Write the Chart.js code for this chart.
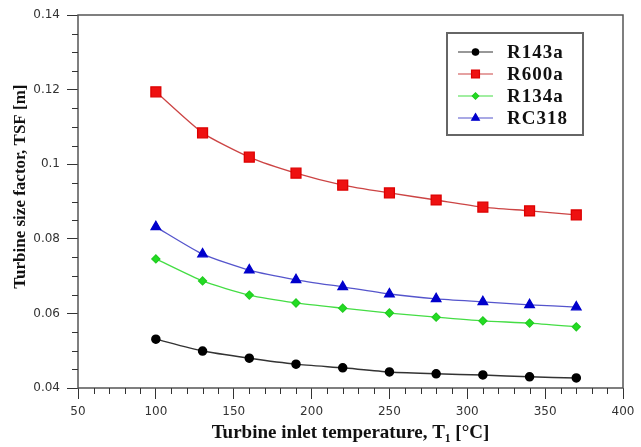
<!DOCTYPE html>
<html>
<head>
<meta charset="utf-8">
<script src="https://cdn.jsdelivr.net/npm/chart.js@4"></script>
<style>
  html, body { margin: 0; padding: 0; background: #fff; }
  #wrap { width: 641px; height: 447px; }
</style>
</head>
<body>
<div id="wrap"><canvas id="tsfChart" width="641" height="447"></canvas></div>
<script>
// turbine inlet temperature, degC
const temps = [100, 130, 160, 190, 220, 250, 280, 310, 340, 370];

// turbine size factor, m
const r143a = [0.0531, 0.0499, 0.0480, 0.0464, 0.0454, 0.0443, 0.0438, 0.0435, 0.0430, 0.0427];
const r600a = [0.1194, 0.1084, 0.1019, 0.0976, 0.0944, 0.0923, 0.0904, 0.0885, 0.0875, 0.0864];
const r134a = [0.0746, 0.0687, 0.0649, 0.0628, 0.0614, 0.0601, 0.0590, 0.0580, 0.0574, 0.0564];
const rc318 = [0.0832, 0.0759, 0.0716, 0.0690, 0.0671, 0.0652, 0.0639, 0.0631, 0.0623, 0.0617];

const xTicks = [50, 100, 150, 200, 250, 300, 350, 400];
const yTicks = [0.04, 0.06, 0.08, 0.1, 0.12, 0.14];

function toPoints(values) {
    return temps.map((t, i) => ({ x: t, y: values[i] }));
}

// frame, minor ticks and the boxed legend inside the plot
const framePlugin = {
    id: 'frame',
    afterDraw(chart) {
        const ctx = chart.ctx;
        const area = chart.chartArea;
        const xs = chart.scales.x;
        const ys = chart.scales.y;

        ctx.save();
        ctx.strokeStyle = '#555';
        ctx.lineWidth = 1.5;
        ctx.strokeRect(area.left, area.top, area.right - area.left, area.bottom - area.top);

        // minor ticks
        ctx.lineWidth = 1;
        ctx.strokeStyle = '#333';
        ctx.beginPath();
        for (let v = 50; v <= 400; v += 10) {
            if (v % 50 === 0) continue;
            const px = Math.round(xs.getPixelForValue(v)) + 0.5;
            ctx.moveTo(px, area.bottom);
            ctx.lineTo(px, area.bottom + 6);
        }
        for (let k = 0; k <= 20; k++) {
            if (k % 4 === 0) continue;
            const py = Math.round(ys.getPixelForValue(0.04 + k * 0.005)) + 0.5;
            ctx.moveTo(area.left, py);
            ctx.lineTo(area.left - 6, py);
        }
        ctx.stroke();

        // legend
        const bx = 447, by = 33, bw = 136, bh = 102;
        ctx.fillStyle = '#fff';
        ctx.fillRect(bx, by, bw, bh);
        ctx.strokeStyle = '#666';
        ctx.lineWidth = 2;
        ctx.strokeRect(bx, by, bw, bh);

        ctx.font = 'bold 19px "Liberation Serif"';
        ctx.textBaseline = 'middle';
        chart.data.datasets.forEach((ds, i) => {
            const y = 52 + i * 22;
            ctx.strokeStyle = ds.borderColor;
            ctx.lineWidth = 1.2;
            ctx.beginPath();
            ctx.moveTo(458, y);
            ctx.lineTo(493, y);
            ctx.stroke();
            ctx.fillStyle = ds.pointBackgroundColor;
            ctx.strokeStyle = ds.pointBorderColor;
            Chart.helpers.drawPoint(ctx, {
                pointStyle: ds.pointStyle,
                radius: ds.pointRadius * 0.8,
                borderWidth: 1
            }, 475.5, y);
            ctx.fillStyle = '#111';
            ctx.letterSpacing = '1px';
            ctx.fillText(ds.label, 507, y + 1);
            ctx.letterSpacing = '0px';
        });
        ctx.restore();
    }
};

const ctx = document.getElementById('tsfChart').getContext('2d');

new Chart(ctx, {
    type: 'line',
    data: {
        datasets: [
            {
                label: 'R143a',
                data: toPoints(r143a),
                borderColor: '#333333',
                borderWidth: 1.5,
                pointStyle: 'circle',
                pointRadius: 4,
                pointBackgroundColor: '#000000',
                pointBorderColor: '#000000'
            },
            {
                label: 'R600a',
                data: toPoints(r600a),
                borderColor: '#cc4444',
                borderWidth: 1.3,
                pointStyle: 'rect',
                pointRadius: 7,
                pointBackgroundColor: '#ee1111',
                pointBorderColor: '#dd0000'
            },
            {
                label: 'R134a',
                data: toPoints(r134a),
                borderColor: '#44dd44',
                borderWidth: 1.3,
                pointStyle: 'rectRot',
                pointRadius: 4,
                pointBackgroundColor: '#22dd22',
                pointBorderColor: '#22cc22'
            },
            {
                label: 'RC318',
                data: toPoints(rc318),
                borderColor: '#5555cc',
                borderWidth: 1.3,
                pointStyle: 'triangle',
                pointRadius: 5.5,
                pointBackgroundColor: '#0000cc',
                pointBorderColor: '#0000cc'
            }
        ]
    },
    options: {
        responsive: false,
        animation: false,
        layout: {
            padding: { top: 15, right: 18, left: 0, bottom: 0 }
        },
        plugins: {
            legend: { display: false },
            tooltip: { enabled: false }
        },
        elements: {
            line: { tension: 0.2 }
        },
        scales: {
            x: {
                type: 'linear',
                min: 50,
                max: 400,
                afterBuildTicks: scale => {
                    scale.ticks = xTicks.map(v => ({ value: v }));
                },
                afterFit: scale => { scale.height = 59; },
                ticks: {
                    color: '#333',
                    font: { family: '"DejaVu Sans"', size: 12 },
                    padding: 6,
                    maxRotation: 0
                },
                grid: {
                    drawOnChartArea: false,
                    tickLength: 11,
                    tickColor: '#333'
                },
                border: { display: false },
                title: {
                    display: true,
                    text: 'Turbine inlet temperature, T\u2081 [\u00b0C]',
                    color: '#111',
                    font: { family: '"Liberation Serif"', size: 19, weight: 'bold' },
                    padding: { top: 2, bottom: 3 }
                }
            },
            y: {
                type: 'linear',
                min: 0.04,
                max: 0.14,
                afterBuildTicks: scale => {
                    scale.ticks = yTicks.map(v => ({ value: v }));
                },
                afterFit: scale => { scale.width = 78; },
                ticks: {
                    color: '#333',
                    font: { family: '"DejaVu Sans"', size: 12 },
                    padding: 7,
                    callback: v => String(Math.round(v * 100) / 100)
                },
                grid: {
                    drawOnChartArea: false,
                    tickLength: 11,
                    tickColor: '#333'
                },
                border: { display: false },
                title: {
                    display: true,
                    // leading spaces lift the rotated title a little, as in the source figure
                    text: '       Turbine size factor, TSF [m]',
                    color: '#111',
                    font: { family: '"Liberation Serif"', size: 17, weight: 'bold' },
                    padding: { top: 10, bottom: 0 }
                }
            }
        }
    },
    plugins: [framePlugin]
});
</script>
</body>
</html>
